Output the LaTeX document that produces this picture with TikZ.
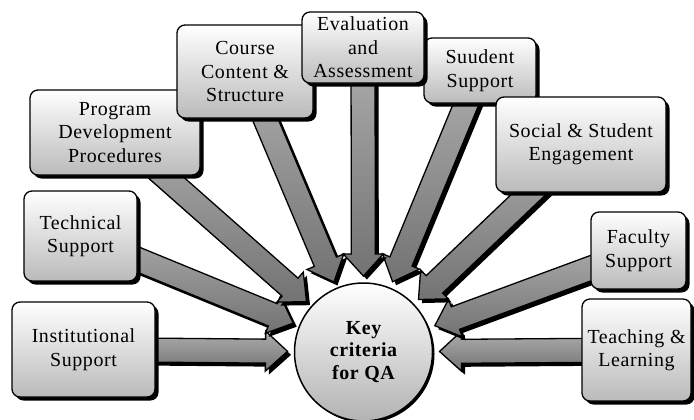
\documentclass[tikz,border=0pt]{standalone}
\usepackage{fontspec}
\setmainfont[LetterSpace=3]{Liberation Serif}
\usetikzlibrary{calc,shadows}

\pgfdeclarelayer{back}
\pgfsetlayers{back,main}

\tikzset{
  solidshadow/.style={drop shadow={shadow xshift=3.5bp, shadow yshift=-3.5bp, fill=black, opacity=1}},
  crit/.style={draw=black, line width=1.3bp, rounded corners=8bp,
    top color=white, bottom color=black!27, align=center, inner sep=0pt,
    font=\fontsize{20}{23.5}\selectfont, solidshadow},
  hub/.style={circle, draw=black, line width=1.5bp, inner sep=0pt,
    minimum size=138bp, top color=white, bottom color=black!30, align=center,
    font=\fontsize{20}{22.5}\selectfont\bfseries,
    drop shadow={shadow xshift=2bp, shadow yshift=-2bp, fill=black, opacity=1}},
  flow/.style={draw=black, line width=1.3bp, top color=black!32, bottom color=black!55,
    solidshadow}
}

% block arrow from the centre of box #1 to the tip coordinate #2
\newcommand\critarrow[2]{%
  \draw[flow]
    ($(#1.center)!12bp!90:(#2)$)
    -- ($(#2)!22bp!(#1.center)!12bp!90:(#2)$)
    -- ($(#2)!22bp!(#1.center)!20bp!90:(#2)$)
    -- (#2)
    -- ($(#2)!22bp!(#1.center)!20bp!-90:(#2)$)
    -- ($(#2)!22bp!(#1.center)!12bp!-90:(#2)$)
    -- ($(#1.center)!12bp!-90:(#2)$)
    -- cycle;}

\begin{document}
\begin{tikzpicture}[x=1bp, y=-1bp]
  \useasboundingbox (0,0) rectangle (694,419);

  % central criterion
  \node[hub] (hub) at (363.5,352) {Key\\criteria\\for QA};

  % the nine criteria boxes
  \node[crit, minimum width=143bp, minimum height=95bp] (inst) at (83.5,349.5) {Institutional\\Support};
  \node[crit, minimum width=113bp, minimum height=90bp] (tech) at (80.5,236) {Technical\\Support};
  \node[crit, minimum width=170bp, minimum height=85bp] (prog) at (115,132.5) {Program\\Development\\Procedures};
  \node[crit, minimum width=136bp, minimum height=93bp] (course) at (245,71.5) {Course\\Content \&\\Structure};
  \node[crit, minimum width=112bp, minimum height=65bp] (stud) at (480,70.5) {Suudent\\Support};
  \node[crit, minimum width=122bp, minimum height=71bp] (eval) at (363,47.5) {Evaluation\\and\\Assessment};
  \node[crit, minimum width=170bp, minimum height=95bp] (social) at (581,144.5) {Social \& Student\\Engagement};
  \node[crit, minimum width=95bp, minimum height=77bp] (fac) at (638.5,250.5) {Faculty\\Support};
  \node[crit, minimum width=109bp, minimum height=102bp] (teach) at (636.5,350) {Teaching \&\\Learning};

  % arrow tips around the hub
  \foreach \b in {inst,tech,prog,course,stud,eval,social,fac,teach}
    \coordinate (t\b) at ($(hub.center)!76bp!(\b.center)$);

  \begin{pgfonlayer}{back}
    \critarrow{inst}{tinst}
    \critarrow{tech}{ttech}
    \critarrow{prog}{tprog}
    \critarrow{course}{tcourse}
    \critarrow{teach}{tteach}
    \critarrow{fac}{tfac}
    \critarrow{social}{tsocial}
    \critarrow{stud}{tstud}
    \critarrow{eval}{teval}
  \end{pgfonlayer}
\end{tikzpicture}
\end{document}
